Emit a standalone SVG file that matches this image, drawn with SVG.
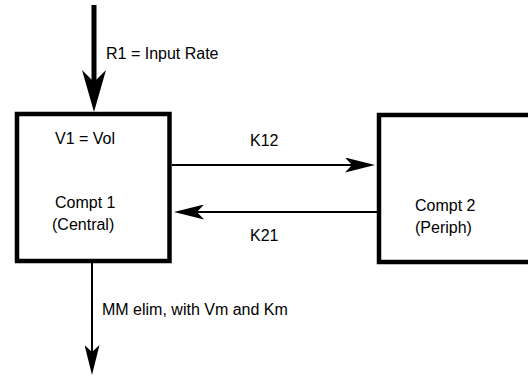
<svg xmlns="http://www.w3.org/2000/svg" width="528" height="377" viewBox="0 0 528 377">
<style>
text{font-family:"Liberation Sans",Arial,sans-serif;font-size:16px;fill:#000}
.box{fill:#fff;stroke:#000;stroke-width:4.5}
.thin{stroke:#000;stroke-width:2;fill:none}
.thick{stroke:#000;stroke-width:5;fill:none}
</style>
<defs>
<marker id="ah" viewBox="0 0 30 15" markerWidth="30" markerHeight="15" refX="7" refY="7.5" orient="auto" markerUnits="userSpaceOnUse">
<path d="M0,0 L30,7.5 L0,15 L7,7.5 Z" fill="#000"/>
</marker>
<marker id="ahb" viewBox="0 0 42 24" markerWidth="42" markerHeight="24" refX="12" refY="12" orient="auto" markerUnits="userSpaceOnUse">
<path d="M0,0 L42,12 L0,24 L12,12 Z" fill="#000"/>
</marker>
</defs>
<rect width="528" height="377" fill="#fff"/>
<g id="compt1">
<rect class="box" x="17" y="114" width="152.5" height="147"/>
<text x="55" y="144">V1 = Vol</text>
<text x="55" y="208">Compt 1</text>
<text x="52" y="230">(Central)</text>
</g>
<g id="compt2">
<rect class="box" x="379" y="115" width="170" height="147"/>
<text x="415" y="211">Compt 2</text>
<text x="415" y="233">(Periph)</text>
</g>
<g id="connectors">
<line class="thick" x1="94" y1="5" x2="94" y2="82" marker-end="url(#ahb)"/>
<text x="106" y="59">R1 = Input Rate</text>
<line class="thin" x1="172" y1="165" x2="352" y2="165" marker-end="url(#ah)"/>
<text x="250" y="146">K12</text>
<line class="thin" x1="377" y1="212" x2="197" y2="212" marker-end="url(#ah)"/>
<text x="250" y="241">K21</text>
<line class="thin" x1="92" y1="263" x2="92" y2="352" marker-end="url(#ah)"/>
<text x="102" y="315">MM elim, with Vm and Km</text>
</g>
</svg>
